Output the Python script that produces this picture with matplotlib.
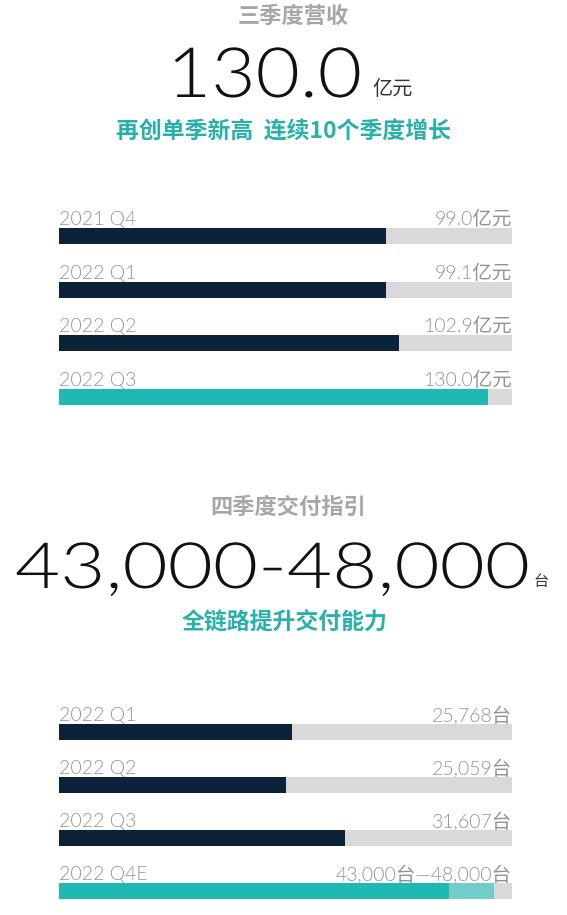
"""Q3 revenue / Q4 delivery guidance infographic."""

import matplotlib

matplotlib.use("Agg")
import matplotlib.pyplot as plt
from matplotlib.patheffects import AbstractPathEffect
from matplotlib.transforms import Affine2D

# ---- data ---------------------------------------------------------------
rev_quarters = ["2021 Q4", "2022 Q1", "2022 Q2", "2022 Q3"]
rev_values = [99.0, 99.1, 102.9, 130.0]  # 亿元
rev_track_max = 137.3

dlv_quarters = ["2022 Q1", "2022 Q2", "2022 Q3", "2022 Q4E"]
dlv_values = [25768, 25059, 31607]
dlv_q4_low = 43000
dlv_q4_high = 48000
dlv_track_max = 50000

# ---- style --------------------------------------------------------------
NAVY = "#0c2238"
TEAL = "#1fb8b2"
TEAL_LIGHT = "#72ccc8"
TRACK = "#d9d9d9"
LABEL_GREY = "#939393"
HEAD_GREY = "#a6a6a6"
TEAL_TEXT = "#27b1a9"
LATIN = ["Lato", "Noto Sans CJK SC", "DejaVu Sans"]
CJK = ["Noto Sans CJK SC", "DejaVu Sans"]

W, H = 567, 915
fig = plt.figure(figsize=(W / 100, H / 100), dpi=100)
fig.patch.set_facecolor("white")

# full-figure overlay in pixel units for the headline texts
txt = fig.add_axes([0, 0, 1, 1])
txt.set_xlim(0, W)
txt.set_ylim(H, 0)
txt.axis("off")


class StretchX(AbstractPathEffect):
    """Widen glyphs horizontally (the original uses a wide geometric face)."""

    def __init__(self, sx):
        super().__init__()
        self.sx = sx

    def draw_path(self, renderer, gc, tpath, affine, rgbFace=None):
        renderer.draw_path(gc, tpath, Affine2D().scale(self.sx, 1) + affine, rgbFace)


def bar_block(top_center, spacing, labels, track_max):
    n = len(labels)
    y_top = top_center - 0.5 * spacing
    y_bot = top_center + (n - 0.5) * spacing
    ax = fig.add_axes([59 / W, 1 - y_bot / H, 453 / W, (y_bot - y_top) / H])
    ax.set_xlim(0, track_max)
    ax.set_ylim(n - 0.5, -0.5)
    ax.axis("off")
    return ax


def labels_on(ax, labels, values_txt, track_max, spacing, bar_h):
    off = bar_h / 2 + 3 / spacing
    for i, (lab, val) in enumerate(zip(labels, values_txt)):
        ax.text(0, i - off, lab, ha="left", va="baseline", fontsize=14,
                color=LABEL_GREY, family=LATIN, fontweight=300)
        ax.text(track_max, i - off, val, ha="right", va="baseline", fontsize=14,
                color=LABEL_GREY, family=LATIN, fontweight=300)


# ---- section 1: revenue ---------------------------------------------------
txt.text(293, 16, "三季度营收", ha="center", va="center", fontsize=16,
         color=HEAD_GREY, family=CJK, fontweight="bold")
txt.text(167, 97, "130.0", ha="left", va="baseline", fontsize=50,
         color="#111111", family=LATIN, fontweight=300,
         path_effects=[StretchX(1.1)])
txt.text(372, 95, "亿元", ha="left", va="baseline", fontsize=14.5,
         color="#333333", family=CJK, fontweight="light")
txt.text(284, 132, "再创单季新高  连续10个季度增长", ha="center", va="center",
         fontsize=16.5, color=TEAL_TEXT, family=CJK, fontweight="bold")

sp1, bh1 = 53.7, 0.3
ax1 = bar_block(236, sp1, rev_quarters, rev_track_max)
ys = range(len(rev_quarters))
ax1.barh(ys, [rev_track_max] * len(rev_quarters), height=bh1, color=TRACK)
ax1.barh(ys, rev_values, height=bh1,
         color=[NAVY] * (len(rev_values) - 1) + [TEAL])
labels_on(ax1, rev_quarters, [f"{v:.1f}亿元" for v in rev_values],
          rev_track_max, sp1, bh1)

# ---- section 2: deliveries -------------------------------------------------
txt.text(288, 507, "四季度交付指引", ha="center", va="center", fontsize=16,
         color=HEAD_GREY, family=CJK, fontweight="bold")
txt.text(15, 588, "43,000-48,000", ha="left", va="baseline", fontsize=46,
         color="#111111", family=LATIN, fontweight=300,
         path_effects=[StretchX(1.22)])
txt.text(533, 586, "台", ha="left", va="baseline", fontsize=11,
         color="#333333", family=CJK, fontweight="light")
txt.text(284.5, 622, "全链路提升交付能力", ha="center", va="center",
         fontsize=16.5, color=TEAL_TEXT, family=CJK, fontweight="bold")

sp2, bh2 = 53.0, 0.3
ax2 = bar_block(732, sp2, dlv_quarters, dlv_track_max)
ys = range(len(dlv_quarters))
ax2.barh(ys, [dlv_track_max] * len(dlv_quarters), height=bh2, color=TRACK)
ax2.barh(range(len(dlv_values)), dlv_values, height=bh2, color=NAVY)
q4 = len(dlv_values)
ax2.barh(q4, dlv_q4_high - dlv_q4_low, left=dlv_q4_low, height=bh2,
         color=TEAL_LIGHT)
ax2.barh(q4, dlv_q4_low, height=bh2, color=TEAL)
dlv_txt = [f"{v:,}台" for v in dlv_values] + [f"{dlv_q4_low:,}台—{dlv_q4_high:,}台"]
labels_on(ax2, dlv_quarters, dlv_txt, dlv_track_max, sp2, bh2)

fig.savefig("out.png", dpi=100, facecolor="white")
